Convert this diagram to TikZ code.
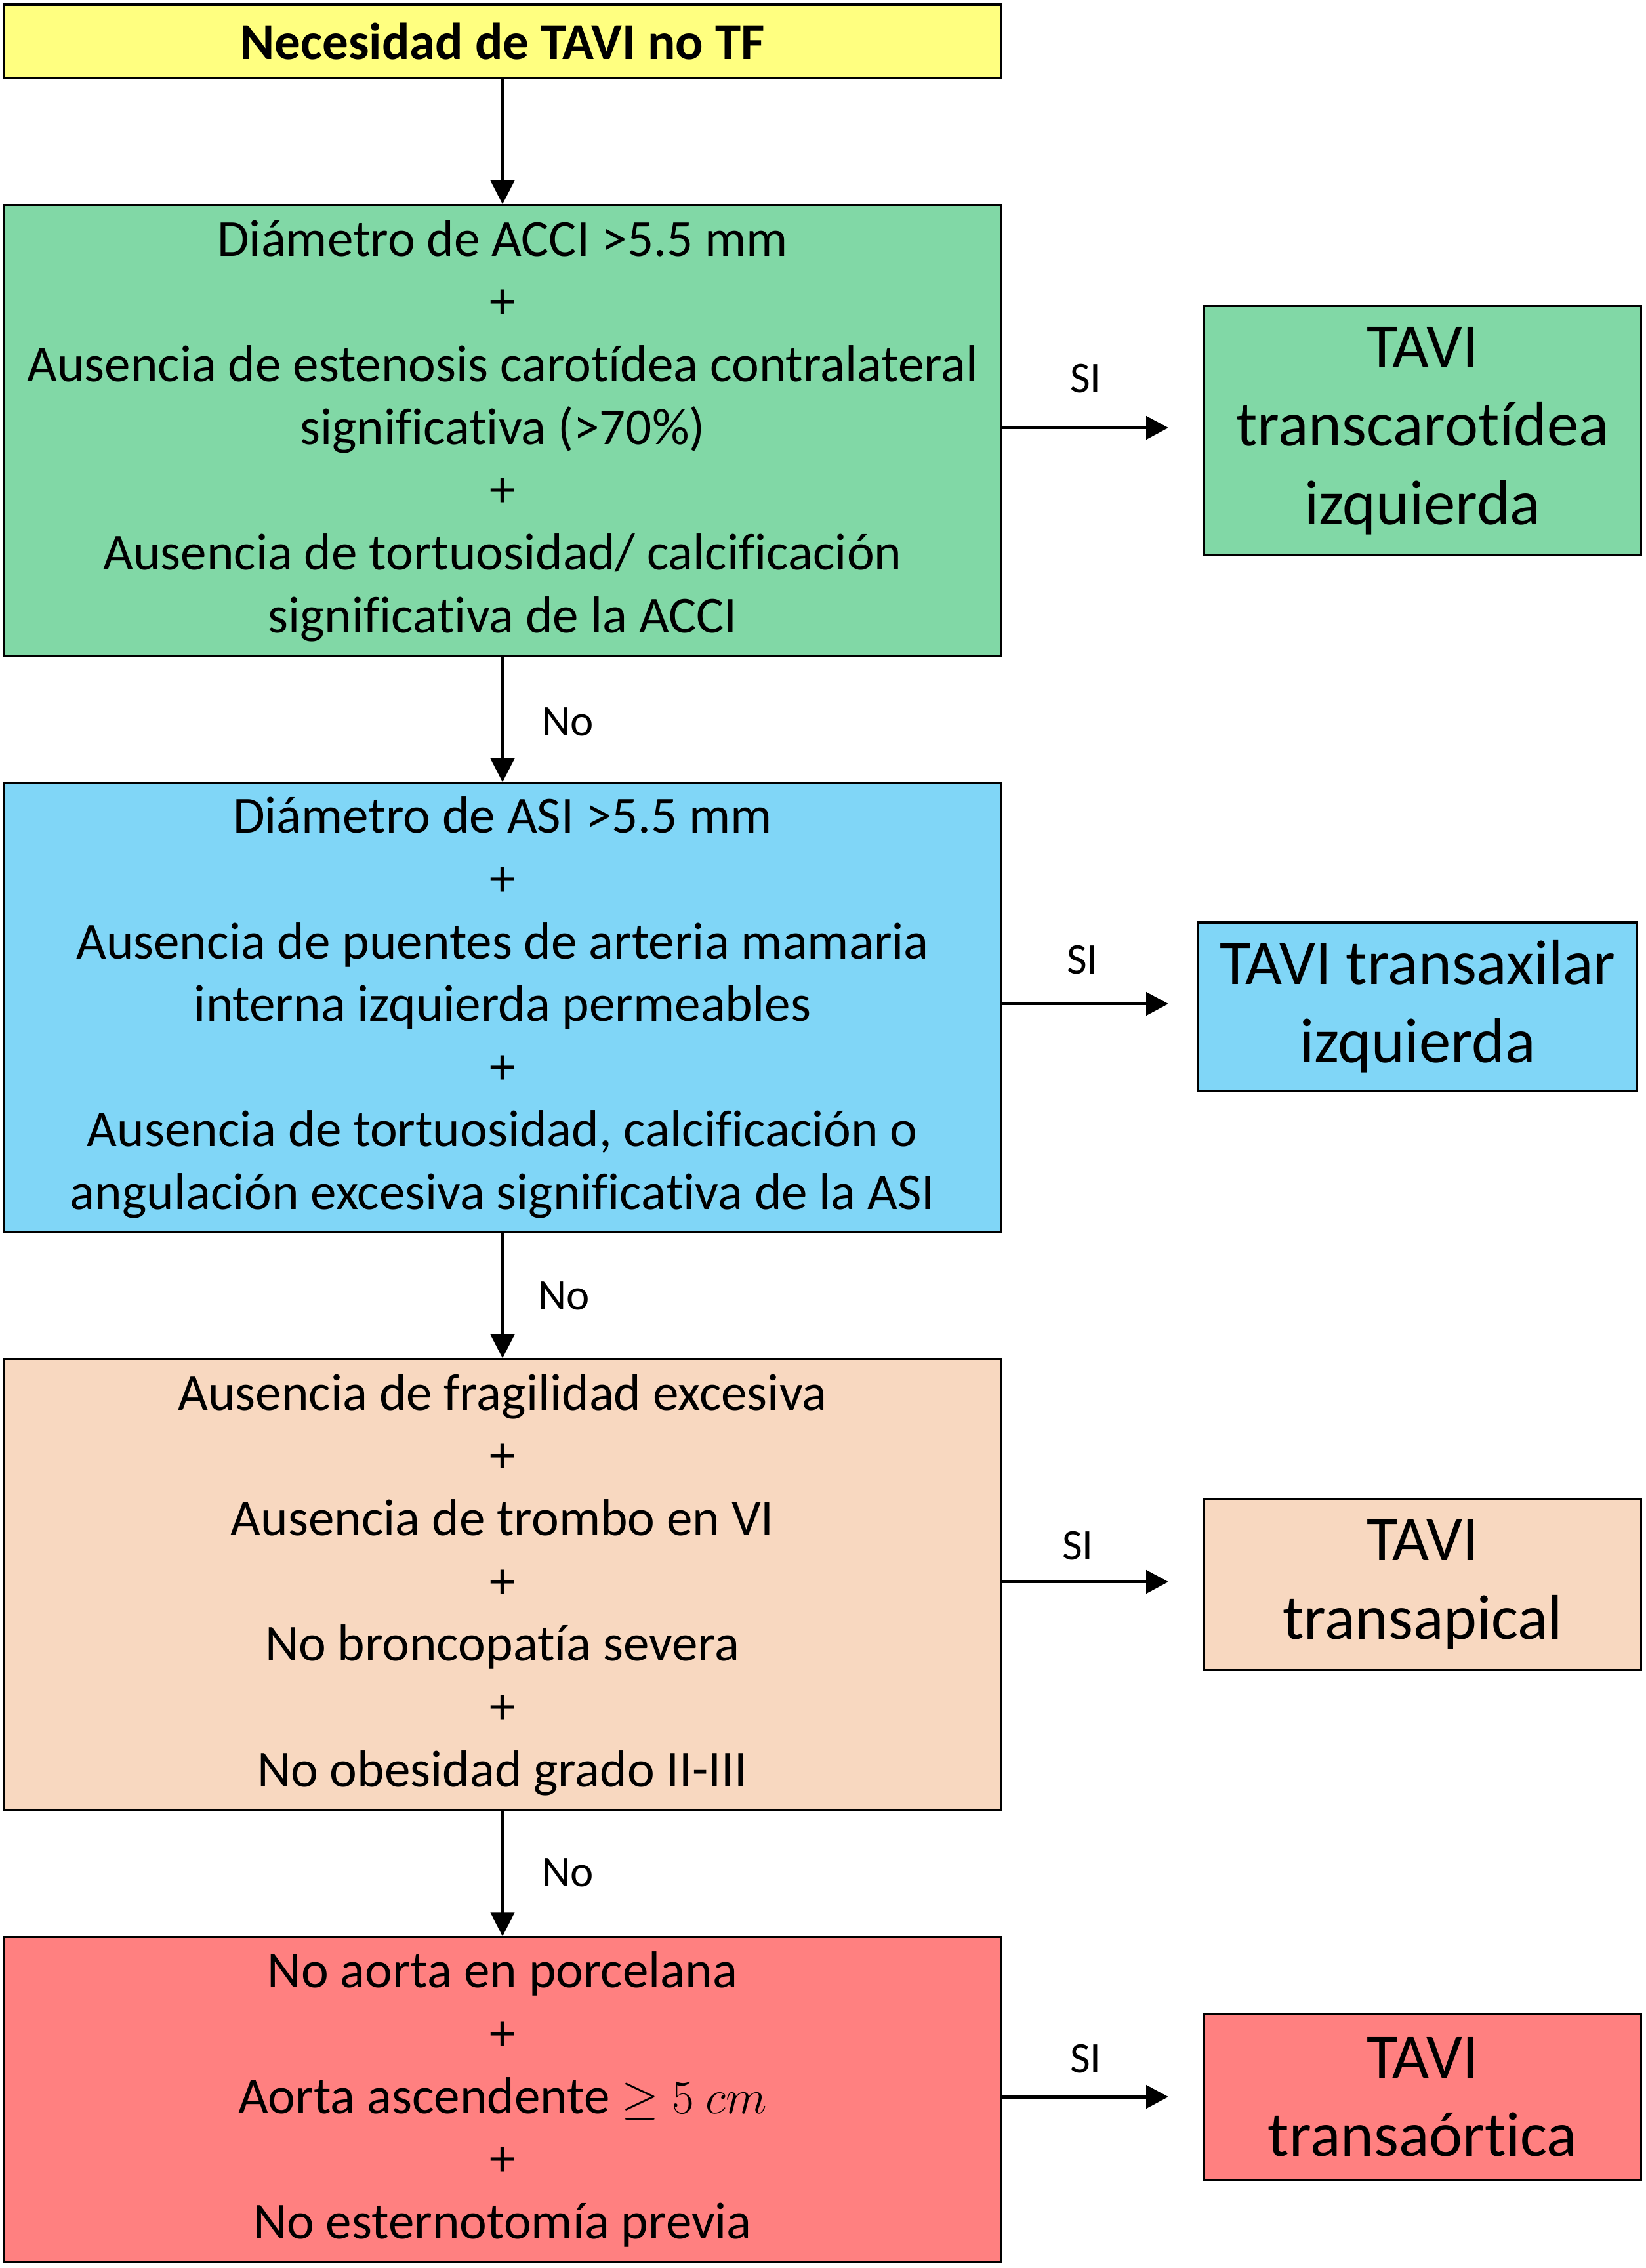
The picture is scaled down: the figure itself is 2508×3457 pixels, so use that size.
\documentclass[tikz,border=0pt]{standalone}
\usepackage{fontspec}
\setmainfont{Carlito}[Ligatures=NoCommon]
\usetikzlibrary{arrows.meta}
\definecolor{cyel}{RGB}{255,255,128}
\definecolor{cgrn}{RGB}{129,216,166}
\definecolor{cblu}{RGB}{128,214,247}
\definecolor{cpch}{RGB}{248,216,192}
\definecolor{cred}{RGB}{255,128,128}
\begin{document}
\begin{tikzpicture}[x=0.01cm,y=-0.01cm,
  box/.style={draw=black,line width=0.9pt,align=center,inner sep=0pt,font=\fontsize{22.5}{27.2}\selectfont},
  mainbox/.style={box,minimum width=15.18cm},
  resbox/.style={box,font=\fontsize{27.5}{34}\selectfont},
  lbl/.style={font=\fontsize{19}{23}\selectfont,inner sep=0pt},
  down/.style={line width=1.1pt,-{Triangle[length=0.36cm,width=0.36cm]}},
  yes/.style={line width=1.4pt,-{Triangle[length=0.34cm,width=0.35cm]}}]
\useasboundingbox (0,0) rectangle (2508,3457);
\node[mainbox,fill=cyel,minimum height=1.12cm,font=\fontsize{22.5}{27}\selectfont\bfseries] (top) at (766,63) {Necesidad de TAVI no TF};
\node[mainbox,fill=cgrn,minimum height=6.87cm] (b1) at (766,656.5) {Diámetro de ACCI >5.5 mm\\+\\Ausencia de estenosis carotídea contralateral\\significativa (>70\%)\\+\\Ausencia de tortuosidad/ calcificación\\significativa de la ACCI};
\node[mainbox,fill=cblu,minimum height=6.84cm] (b2) at (766,1536) {Diámetro de ASI >5.5 mm\\+\\Ausencia de puentes de arteria mamaria\\interna izquierda permeables\\+\\Ausencia de tortuosidad, calcificación o\\angulación excesiva significativa de la ASI};
\node[mainbox,fill=cpch,minimum height=6.87cm] (b3) at (766,2415.5) {Ausencia de fragilidad excesiva\\+\\Ausencia de trombo en VI\\+\\No broncopatía severa\\+\\No obesidad grado II-III};
\node[mainbox,fill=cred,minimum height=4.94cm] (b4) at (766,3200) {No aorta en porcelana\\+\\Aorta ascendente $\geq 5\ cm$\\+\\No esternotomía previa};
\node[resbox,fill=cgrn,minimum width=6.65cm,minimum height=3.79cm] (r1) at (2168.5,656.5) {TAVI\\transcarotídea\\izquierda};
\node[resbox,fill=cblu,minimum width=6.68cm,minimum height=2.56cm] (r2) at (2161,1534) {TAVI transaxilar\\izquierda};
\node[resbox,fill=cpch,minimum width=6.65cm,minimum height=2.60cm] (r3) at (2168.5,2415) {TAVI\\transapical};
\node[resbox,fill=cred,minimum width=6.65cm,minimum height=2.53cm] (r4) at (2168.5,3196.5) {TAVI\\transaórtica};
\coordinate (e1) at (1781,652);
\coordinate (e2) at (1781,1530);
\coordinate (e3) at (1781,2411);
\coordinate (e4) at (1781,3196);
\draw[down] (top.south) -- (b1.north);
\draw[down] (b1.south) -- (b2.north);
\draw[down] (b2.south) -- (b3.north);
\draw[down] (b3.south) -- (b4.north);
\draw[yes] (b1.east |- e1) -- (e1);
\draw[yes] (b2.east |- e2) -- (e2);
\draw[yes] (b3.east |- e3) -- (e3);
\draw[yes] (b4.east |- e4) -- (e4);
\node[lbl] (s1) at (1655,577) {SI};
\node[lbl] (s2) at (1650,1463) {SI};
\node[lbl] (s3) at (1643,2356) {SI};
\node[lbl] (s4) at (1655,3138) {SI};
\node[lbl] (n1) at (866,1100) {No};
\node[lbl] (n2) at (860,1975) {No};
\node[lbl] (n3) at (866,2854) {No};
\end{tikzpicture}
\end{document}
